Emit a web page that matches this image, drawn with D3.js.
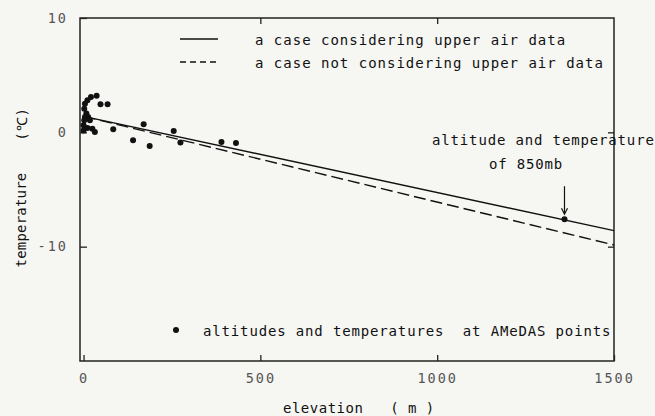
<!DOCTYPE html>
<html>
<head>
<meta charset="utf-8">
<script src="https://cdnjs.cloudflare.com/ajax/libs/d3/7.8.5/d3.min.js"></script>
<style>
body{margin:0;background:#f6f6f3}
text{font-family:"DejaVu Sans Mono",monospace;white-space:pre}
</style>
</head>
<body>
<svg id="mySVG" width="655" height="416"></svg>
<script>
//---data---
var amedasElev=[37,21,11,4,48,68,2,8,13,4,18,2,0,11,25,0,32,84,170,140,187,255,274,390,431]
var amedasTemp=[3.2,3.1,2.8,2.5,2.45,2.45,2.07,1.64,1.34,1.34,1.05,1.05,0.61,0.38,0.32,0.17,0.04,0.26,0.7,-0.7,-1.2,0.11,-0.9,-0.85,-0.94]
var upperAirElev=[0,1500]
var upperAirTemp=[1.4,-8.6]
var noUpperElev=[0,1500]
var noUpperTemp=[1.4,-9.85]
var pt850=[1360,-7.6]
var xTicks=[0,500,1000,1500]
var yTicks=[10,0,-10]

var svg=d3.select("#mySVG")

var x=d3.scaleLinear().domain([-10,1500]).range([80,614])
var y=d3.scaleLinear().domain([-20,10]).range([361,18])

//---frame---
svg.append("rect")
.attr("x",x.range()[0])
.attr("y",y.range()[1])
.attr("width",x.range()[1]-x.range()[0])
.attr("height",y.range()[0]-y.range()[1])
.attr("fill","none")
.attr("stroke","#222")
.attr("stroke-width",1.5)

//---axes---
var leftAxis=svg.append("g")
.attr("transform","translate("+x.range()[0]+",0)")
.call(d3.axisLeft(y).tickValues(yTicks).tickSize(-7).tickPadding(12).tickFormat(d3.format("d")))
var bottomAxis=svg.append("g")
.attr("transform","translate(0,"+y.range()[0]+")")
.call(d3.axisBottom(x).tickValues(xTicks).tickSize(-6).tickPadding(12).tickFormat(d3.format("d")))
svg.append("g")
.attr("transform","translate(0,"+y.range()[1]+")")
.call(d3.axisTop(x).tickValues([500,1000]).tickSize(-6).tickFormat(""))
svg.append("g")
.attr("transform","translate("+x.range()[1]+",0)")
.call(d3.axisRight(y).tickValues([0,-10]).tickSize(-6).tickFormat(""))

svg.selectAll(".domain").remove()
svg.selectAll(".tick line").attr("stroke","#222").attr("stroke-width",1.3)
svg.selectAll(".tick text")
.attr("fill","#555")
.style("font-size","13.5px")
.style("letter-spacing","2px")
leftAxis.selectAll(".tick text").text(function(d){return d<0?"-"+Math.abs(d):d})

//---regression lines---
var line=d3.line()
.x(function(d){return x(d[0])})
.y(function(d){return y(d[1])})

svg.append("path")
.datum(d3.zip(upperAirElev,upperAirTemp))
.attr("d",line)
.attr("fill","none")
.attr("stroke","#111")
.attr("stroke-width",1.4)

svg.append("path")
.datum(d3.zip(noUpperElev,noUpperTemp))
.attr("d",line)
.attr("fill","none")
.attr("stroke","#111")
.attr("stroke-width",1.4)
.attr("stroke-dasharray","12,5")

//---AMeDAS points---
svg.append("g").selectAll("circle")
.data(d3.zip(amedasElev,amedasTemp))
.join("circle")
.attr("cx",function(d){return x(d[0])})
.attr("cy",function(d){return y(d[1])})
.attr("r",3)
.attr("fill","#111")

//---850mb point and arrow---
svg.append("circle")
.attr("cx",x(pt850[0]))
.attr("cy",y(pt850[1]))
.attr("r",3)
.attr("fill","#111")

svg.append("line")
.attr("x1",x(pt850[0]))
.attr("x2",x(pt850[0]))
.attr("y1",y(pt850[1])-33)
.attr("y2",y(pt850[1])-6)
.attr("stroke","#111")
.attr("stroke-width",1.2)
svg.append("path")
.attr("d","M"+(x(pt850[0])-3)+","+(y(pt850[1])-11)+"L"+x(pt850[0])+","+(y(pt850[1])-5)+"L"+(x(pt850[0])+3)+","+(y(pt850[1])-11))
.attr("fill","none")
.attr("stroke","#111")
.attr("stroke-width",1.2)

var labelStyle=function(t){
    t.attr("fill","#111").style("font-size","14px").style("letter-spacing","0.85px")
}

svg.append("text")
.attr("x",432).attr("y",145)
.text("altitude and temperature")
.call(labelStyle)
svg.append("text")
.attr("x",526).attr("y",169)
.attr("text-anchor","middle")
.text("of 850mb")
.call(labelStyle)

//---legend---
svg.append("line")
.attr("x1",180).attr("x2",218).attr("y1",39).attr("y2",39)
.attr("stroke","#111").attr("stroke-width",1.4)
svg.append("line")
.attr("x1",180).attr("x2",218).attr("y1",62).attr("y2",62)
.attr("stroke","#111").attr("stroke-width",1.4)
.attr("stroke-dasharray","6,4")
svg.append("text")
.attr("x",255).attr("y",45)
.text("a case considering upper air data")
.call(labelStyle)
.style("letter-spacing","1px")
svg.append("text")
.attr("x",255).attr("y",68)
.text("a case not considering upper air data")
.call(labelStyle)
.style("letter-spacing","1px")

svg.append("circle")
.attr("cx",176).attr("cy",330).attr("r",3)
.attr("fill","#111")
svg.append("text")
.attr("x",203).attr("y",336)
.text("altitudes and temperatures  at AMeDAS points")
.call(labelStyle)

//---axis titles---
svg.append("text")
.attr("x",283).attr("y",413)
.text("elevation   ( m )")
.call(labelStyle)
.style("letter-spacing","0.5px")

svg.append("text")
.attr("transform","translate(26,220)rotate(-90)")
.attr("text-anchor","middle")
.text("temperature")
.call(labelStyle)
.style("letter-spacing","0.2px")
svg.append("text")
.attr("transform","translate(27,124)rotate(-90)")
.attr("text-anchor","middle")
.text("(℃)")
.call(labelStyle)
</script>
</body>
</html>
